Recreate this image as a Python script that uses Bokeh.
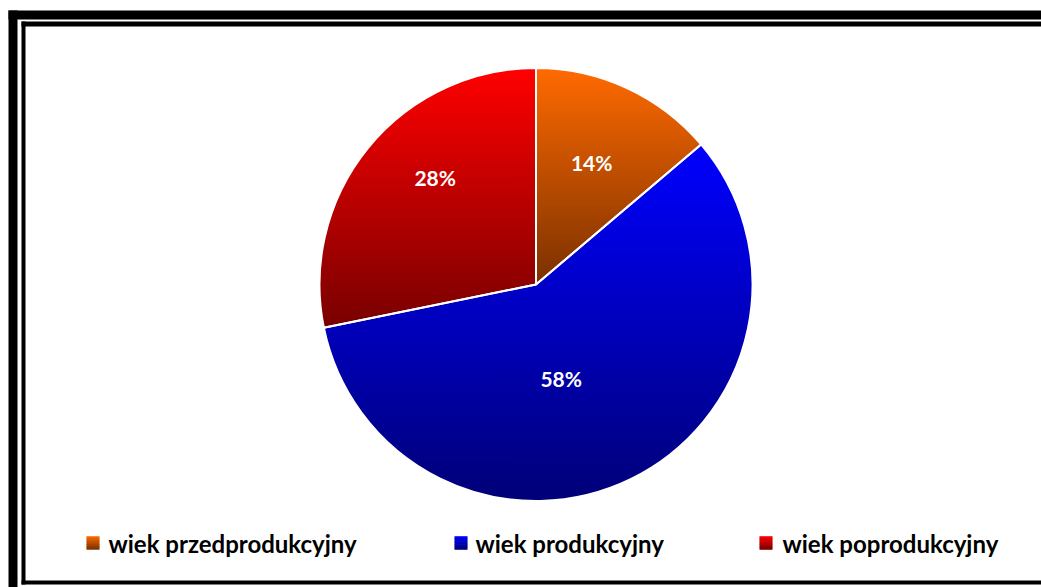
import numpy as np
from bokeh.plotting import figure
from bokeh.models import Range1d
from bokeh.core.properties import value
from bokeh.embed import file_html
from bokeh.resources import INLINE

# ---- data ----
categories = ["wiek przedprodukcyjny", "wiek produkcyjny", "wiek poprodukcyjny"]
shares = [13.8, 58.0, 28.2]
pct_labels = ["14%", "58%", "28%"]

# ---- styles ----
top_colors = ["#FF6A00", "#0000FF", "#FF0000"]
bottom_colors = ["#7A3000", "#000078", "#780000"]
label_polar = [(24.5, 0.62), (165.0, 0.45), (316.8, 0.68)]  # (deg clockwise from top, radius fraction)
legend_marker_x = [86, 454, 759]
legend_text_x = [108, 475, 782]

W, H = 1041, 587
PAGE_X0, PAGE_Y0 = 0, 0


def px(x):
    return x - PAGE_X0


def py(y):
    return (H + PAGE_Y0) - y


p = figure(width=W, height=H, x_range=Range1d(0, W), y_range=Range1d(0, H),
           output_backend="svg", toolbar_location=None, min_border=0)
p.axis.visible = False
p.grid.visible = False
p.outline_line_color = None
p.background_fill_color = "white"
p.border_fill_color = "white"

# ---- frame (double black border) ----
p.quad(left=[px(8), px(8)], right=[px(17), W], bottom=[0, py(19)], top=[py(10), py(10)],
       fill_color="black", line_color=None)
p.quad(left=[px(21), px(21), px(21)], right=[px(25), W, W],
       bottom=[py(584), py(26), py(584)], top=[py(21), py(21), py(580)],
       fill_color="black", line_color=None)

# ---- pie ----
cx, cy, R = px(535.5), py(284), 216.5
total = float(sum(shares))
fracs = np.array(shares) / total
cum = np.concatenate([[0], np.cumsum(fracs)])
start_angles = np.pi / 2 - 2 * np.pi * cum[:-1]
end_angles = np.pi / 2 - 2 * np.pi * cum[1:]


def hex_to_rgb(h):
    h = h.lstrip("#")
    return np.array([int(h[i:i + 2], 16) for i in (0, 2, 4)], dtype=float)


def mix(c1, c2, t):
    c = hex_to_rgb(c1) * (1 - t) + hex_to_rgb(c2) * t
    return "#%02x%02x%02x" % tuple(int(round(v)) for v in c)


def clip_half(pts, keep, inter):
    out = []
    n = len(pts)
    for i in range(n):
        cur, prev = pts[i], pts[i - 1]
        cin, pin = keep(cur), keep(prev)
        if cin:
            if not pin:
                out.append(inter(prev, cur))
            out.append(cur)
        elif pin:
            out.append(inter(prev, cur))
    return out


def inter_y(yc):
    def f(a, b):
        t = (yc - a[1]) / (b[1] - a[1])
        return (a[0] + t * (b[0] - a[0]), yc)
    return f


def clip_band(poly, y0, y1):
    pts = clip_half(poly, lambda q: q[1] >= y0, inter_y(y0))
    if not pts:
        return []
    return clip_half(pts, lambda q: q[1] <= y1, inter_y(y1))


xs_all, ys_all, cols_all = [], [], []
NB = 90
for i in range(len(shares)):
    a = np.linspace(start_angles[i], end_angles[i], 300)
    poly = [(cx, cy)] + [(cx + R * np.cos(t), cy + R * np.sin(t)) for t in a]
    yv = [q[1] for q in poly]
    ymin, ymax = min(yv), max(yv)
    edges = np.linspace(ymin, ymax, NB + 1)
    for b in range(NB):
        y0, y1 = edges[b] - 0.4, edges[b + 1] + 0.4
        pts = clip_band(poly, y0, y1)
        if len(pts) < 3:
            continue
        t = (ymax - 0.5 * (edges[b] + edges[b + 1])) / (ymax - ymin)
        xs_all.append([q[0] for q in pts])
        ys_all.append([q[1] for q in pts])
        cols_all.append(mix(top_colors[i], bottom_colors[i], t))

p.patches(xs_all, ys_all, fill_color=cols_all, line_color=None)
p.wedge(x=cx, y=cy, radius=R, start_angle=list(start_angles), end_angle=list(end_angles),
        direction="clock", fill_color=None, line_color="white", line_width=2)

# ---- percentage labels ----
lx = [cx + R * rf * np.sin(np.radians(d)) for d, rf in label_polar]
ly = [cy + R * rf * np.cos(np.radians(d)) for d, rf in label_polar]
p.text(x=lx, y=ly, text=pct_labels, text_color="white", text_font=value("Lato"),
       text_font_style="bold", text_font_size="21px", text_align="center",
       text_baseline="middle")

# ---- legend ----
MS = 13
mtop = py(536)
for i in range(len(categories)):
    nstr = 8
    for s in range(nstr):
        t = (s + 0.5) / nstr
        p.quad(left=px(legend_marker_x[i]), right=px(legend_marker_x[i]) + MS,
               top=mtop - s * MS / nstr + 0.3, bottom=mtop - (s + 1) * MS / nstr - 0.3,
               fill_color=mix(top_colors[i], bottom_colors[i], t), line_color=None)
p.text(x=[px(v) for v in legend_text_x], y=[py(543)] * 3, text=categories,
       text_color="black", text_font=value("Lato"), text_font_style="bold",
       text_font_size="24px", text_align="left", text_baseline="middle")

open("out.html", "w").write(file_html(p, INLINE))
